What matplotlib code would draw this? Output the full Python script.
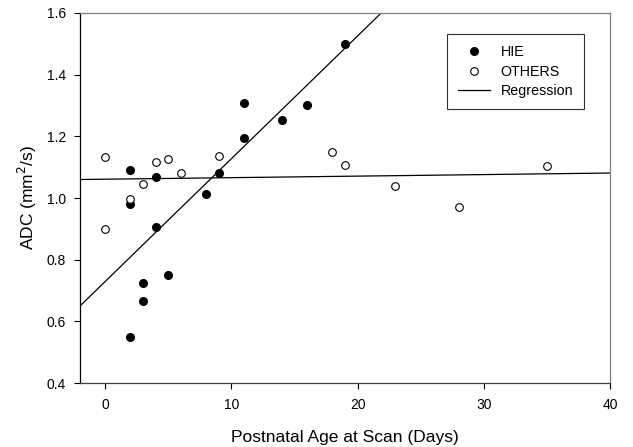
import numpy as np
import matplotlib
matplotlib.use('Agg')
import matplotlib.pyplot as plt

plt.rcParams['font.family'] = ['Liberation Sans', 'DejaVu Sans']

# HIE group
hie_age = [2, 2, 4, 4, 3, 3, 2, 5, 8, 9, 11, 11, 14, 16, 19]
hie_adc = [1.092, 0.98, 1.068, 0.905, 0.726, 0.667, 0.551, 0.75, 1.013, 1.081, 1.194, 1.308, 1.254, 1.30, 1.50]

# other group
oth_age = [0, 0, 2, 3, 4, 5, 6, 9, 18, 19, 23, 28, 35]
oth_adc = [1.134, 0.90, 0.997, 1.045, 1.118, 1.125, 1.08, 1.135, 1.150, 1.107, 1.040, 0.970, 1.105]

# regression lines (intercept, slope)
hie_fit = [0.7296, 0.0398]
oth_fit = [1.061, 0.0005]

x_ticks = [0, 10, 20, 30, 40]
y_ticks = [0.4, 0.6, 0.8, 1.0, 1.2, 1.4, 1.6]

fig = plt.figure(figsize=(6.33, 4.47), dpi=100)
ax = fig.add_axes([0.1264, 0.143, 0.8373, 0.828])

xx = np.array([-2, 40])
ax.plot(xx, hie_fit[0] + hie_fit[1] * xx, color='black', linewidth=0.9, label='Regression')
ax.plot(xx, oth_fit[0] + oth_fit[1] * xx, color='black', linewidth=0.9)

ax.plot(hie_age, hie_adc, 'o', color='black', markersize=5.5, label='HIE', zorder=3)
ax.plot(oth_age, oth_adc, 'o', markerfacecolor='white', markeredgecolor='black',
        markeredgewidth=0.8, markersize=5.5, label='OTHERS', zorder=3)

ax.set_xlim(-2, 40)
ax.set_ylim(0.4, 1.6)
ax.set_xticks(x_ticks)
ax.set_yticks(y_ticks)
ax.set_yticklabels(['%.1f' % v for v in y_ticks])
ax.tick_params(direction='out', length=4, width=0.8, labelsize=10)
ax.tick_params(axis='x', pad=7)
ax.tick_params(axis='y', pad=6)

ax.spines['left'].set_color('black')
ax.spines['bottom'].set_color('#404040')
ax.spines['top'].set_color('#808080')
ax.spines['right'].set_color('#808080')
for s in ax.spines.values():
    s.set_linewidth(0.9)

ax.set_xlabel('Postnatal Age at Scan (Days)', fontsize=12.5, labelpad=13)
ax.set_ylabel('ADC (mm$^2$/s)', fontsize=12.5, labelpad=6)

h, l = ax.get_legend_handles_labels()
order = [1, 2, 0]
leg = ax.legend([h[i] for i in order], [l[i] for i in order], loc='upper left',
                bbox_to_anchor=(0.692, 0.942), fontsize=10.3, frameon=True,
                fancybox=False, edgecolor='black', handlelength=2.3,
                handletextpad=0.7, borderpad=0.75, labelspacing=0.38,
                borderaxespad=0)
leg.get_frame().set_linewidth(0.8)

fig.savefig('out.png', dpi=100)
